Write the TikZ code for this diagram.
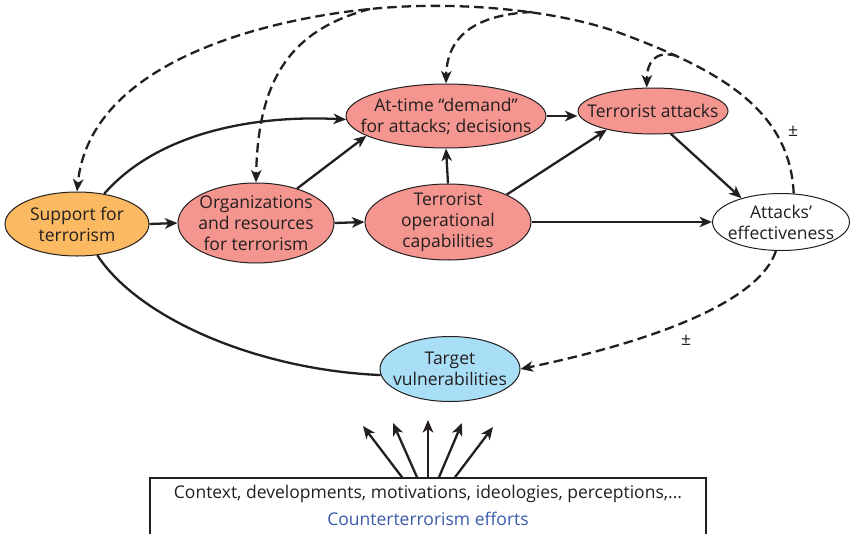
\documentclass[tikz,border=0pt]{standalone}
\usepackage{fontspec}
\setmainfont{Open Sans}
\usetikzlibrary{shapes.geometric,arrows.meta,calc}
\definecolor{ink}{RGB}{35,31,32}
\definecolor{orangeF}{RGB}{251,185,98}
\definecolor{salmonF}{RGB}{244,150,143}
\definecolor{skyF}{RGB}{168,222,246}
\definecolor{ctxblue}{RGB}{58,90,170}
\begin{document}
\begin{tikzpicture}[x=1pt,y=-1pt,
  txt/.style={font=\fontsize{17.5}{21}\selectfont, text=ink, align=center, inner sep=0pt},
  ell/.style={ellipse, draw=ink, line width=1pt, inner sep=0pt, label={[txt]center:#1}},
  conn/.style={draw=ink, line width=2.3pt, -{Stealth[length=12.5pt,width=10.5pt,inset=3.5pt]}},
  plain/.style={draw=ink, line width=2.3pt},
  dconn/.style={conn, dash pattern=on 9.5pt off 5pt},
]
\useasboundingbox (0,0) rectangle (850,533);
\clip (0,0) rectangle (850,533);

% nodes
\node[ell={Support for\\terrorism}, fill=orangeF, minimum width=144pt, minimum height=64pt] (sup) at (77,224) {};
\node[ell={Organizations\\and resources\\for terrorism}, fill=salmonF, minimum width=156pt, minimum height=80pt] (org) at (256,223) {};
\node[ell={At-time “demand”\\for attacks; decisions}, fill=salmonF, minimum width=200pt, minimum height=64pt] (dem) at (446,116) {};
\node[ell={Terrorist attacks}, fill=salmonF, minimum width=150pt, minimum height=46pt] (att) at (653,111) {};
\node[ell={Terrorist\\operational\\capabilities}, fill=salmonF, minimum width=166pt, minimum height=76pt] (ops) at (448,222) {};
\node[ell={Attacks’\\effectiveness}, fill=white, minimum width=137pt, minimum height=57pt] (eff) at (781,222) {};
\node[ell={Target\\vulnerabilities}, fill=skyF, minimum width=140pt, minimum height=65pt] (tgt) at (450,369) {};

% bottom box
\node[draw=ink, line width=1.6pt, minimum width=556pt, minimum height=66pt, inner sep=0pt] (ctx) at (428,511) {};
\node[txt] (ctx1) at (428,494) {Context, developments, motivations, ideologies, perceptions,...};
\node[txt, text=ctxblue] (ctx2) at (428,519) {Counterterrorism efforts};

% plus-minus labels
\node[txt] (pm1) at (793,131) {±};
\node[txt] (pm2) at (686,340) {±};

% straight solid arrows
\draw[conn] (sup.east) -- (org.west);
\draw[conn] (org.east) -- (ops.west);
\draw[conn] (org.40) -- (dem.194);
\draw[conn] (ops.north) -- (dem.south);
\draw[conn] (dem.east) -- (dem.east -| att.west);
\draw[conn] (ops.25) -- (att.202);
\draw[conn] (ops.east) -- (eff.west);
\draw[conn] (att.-52) -- (eff.149);

% curved solid
\draw[conn] (sup.48) .. controls (160,130) and (260,115) .. (dem.182);
\draw[plain] (sup.-57) .. controls (140,320) and (260,370) .. (tgt.185);

% dashed feedback
\coordinate (j1) at (370,9);
\coordinate (j2) at (532,12);
\coordinate (j3) at (677,56);
\draw[dconn] (eff.66) .. controls (790,110) and (720,70) .. (620,33)
  .. controls (560,11) and (460,0) .. (j1)
  .. controls (270,19) and (90,60) .. (sup.north);
\draw[dconn] (j1) .. controls (290,30) and (258,80) .. (org.north);
\draw[dconn] (j2) .. controls (470,15) and (447,40) .. (dem.north);
\draw[dconn] (j3) .. controls (655,50) and (647,62) .. (att.105);
\draw[dconn] (eff.260) .. controls (760,300) and (660,340) .. (tgt.east);

% fan arrows
\coordinate (f1) at (363,426);
\coordinate (f2) at (393,423);
\coordinate (f3) at (428,420);
\coordinate (f4) at (462,423);
\coordinate (f5) at (493,427);
\draw[conn] ($(ctx.north)+(-26,0)$) -- (f1);
\draw[conn] ($(ctx.north)+(-11,0)$) -- (f2);
\draw[conn] (ctx.north) -- (f3);
\draw[conn] ($(ctx.north)+(11,0)$) -- (f4);
\draw[conn] ($(ctx.north)+(27,0)$) -- (f5);
\end{tikzpicture}
\end{document}
